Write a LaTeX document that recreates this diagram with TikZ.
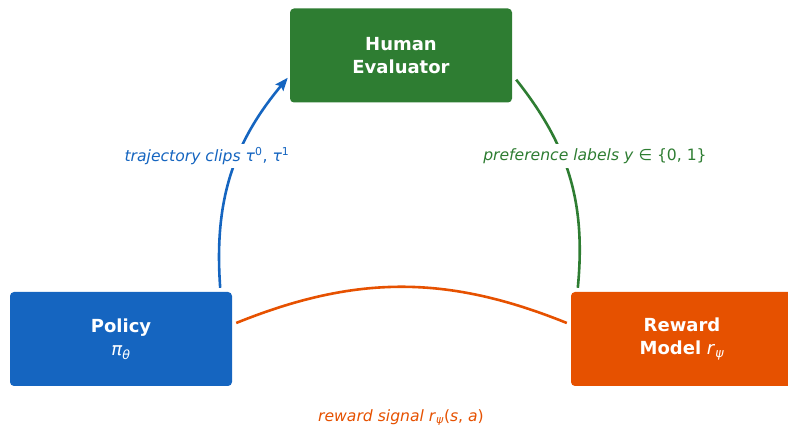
\documentclass[tikz,border=0pt]{standalone}
\usepackage{fontspec}
\setmainfont{DejaVu Sans}
\usetikzlibrary{arrows.meta}

\definecolor{policyblue}{HTML}{1565C0}
\definecolor{humangreen}{HTML}{2E7D32}
\definecolor{rewardorange}{HTML}{E65100}

\begin{document}
\begin{tikzpicture}[x=1pt,y=1pt]
    \pgfmathsetmacro{\boxwidth}{222}
    \pgfmathsetmacro{\boxheight}{94}
    \pgfmathsetmacro{\bendangle}{22}
    \providecommand{\boxfontsize}{\fontsize{18pt}{23.5pt}\selectfont}
    \providecommand{\labelfontsize}{\fontsize{15.6pt}{18pt}\selectfont}
    \tikzset{
        agent/.style={rounded corners=4pt,text=white,align=center,inner sep=0,
            minimum width=\boxwidth pt,minimum height=\boxheight pt,font=\boxfontsize},
        flow/.style={line width=2.6pt},
        flowlabel/.style={fill=white,inner sep=4pt,font=\labelfontsize}
    }
    \useasboundingbox (0,0) rectangle (788,425);
    % the three parties of the loop
    \node[agent,fill=humangreen](human) at (401,369.5){\textbf{Human}\\\textbf{Evaluator}};
    \node[agent,fill=policyblue](policy) at (121,86){\textbf{Policy}\\\textit{π}\textsubscript{\textit{θ}}};
    \node[agent,fill=rewardorange](reward) at (682,86){\textbf{Reward}\\\textbf{Model} \textit{r}\textsubscript{\textit{ψ}}};
    % connectors
    \draw[flow,draw=policyblue,-{Stealth[length=13pt,width=10pt,inset=2pt]}]
        ([shift={(-12,4)}]policy.north east) to[bend left=\bendangle] ([shift={(-2,25)}]human.south west);
    \draw[flow,draw=humangreen]
        ([shift={(4,23)}]human.south east) to[bend left=\bendangle] ([shift={(7,4)}]reward.north west);
    \draw[flow,draw=rewardorange]
        ([shift={(4,16)}]policy.east) to[bend left=\bendangle] ([shift={(-4,16)}]reward.west);
    % labels sit on top of the lines
    \node[flowlabel,text=policyblue](trajlabel) at (207,269)
        {\textit{trajectory clips} \textit{τ}\textsuperscript{0}, \textit{τ}\textsuperscript{1}};
    \node[flowlabel,text=humangreen](preflabel) at (595,269)
        {\textit{preference labels y} ∈ \{0, 1\}};
    \node[flowlabel,text=rewardorange](rewlabel) at (401,7)
        {\textit{reward signal r}\textsubscript{\textit{ψ}}(\textit{s}, \textit{a})};
\end{tikzpicture}
\end{document}
